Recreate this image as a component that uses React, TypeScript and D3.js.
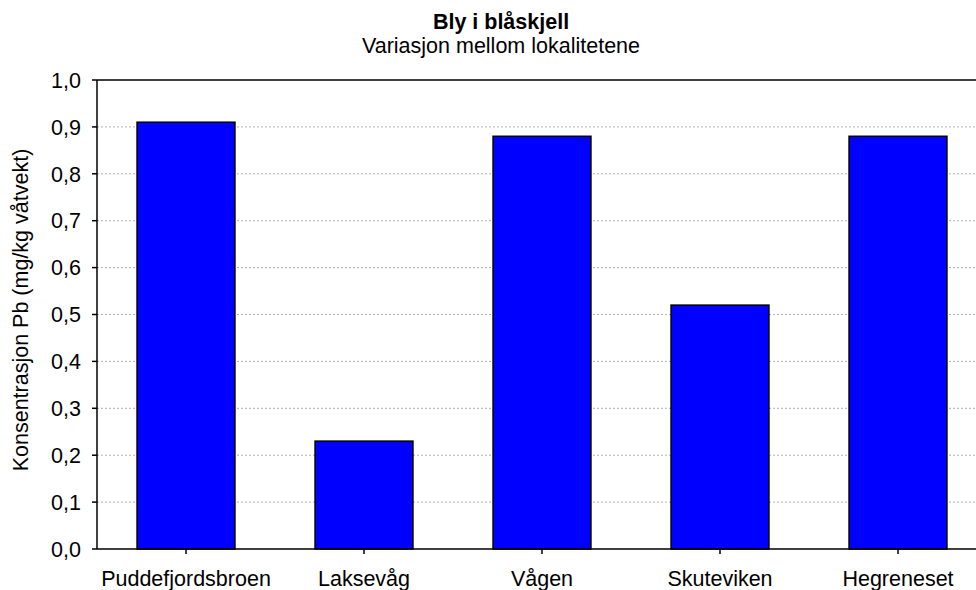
import React from "react";
import * as d3 from "d3";

const categories = ["Puddefjordsbroen", "Laksevåg", "Vågen", "Skuteviken", "Hegreneset"];
const values = [0.91, 0.23, 0.88, 0.52, 0.88];
const yTicks = [0, 0.1, 0.2, 0.3, 0.4, 0.5, 0.6, 0.7, 0.8, 0.9, 1.0];

const W = 976, H = 590;
const left = 97, top = 80, bottom = 549, right = 987;

export default function App() {
  const x = d3.scaleBand<string>().domain(categories).range([left, right]).paddingInner(0.45).paddingOuter(0.225);
  const y = d3.scaleLinear().domain([0, 1]).range([bottom, top]);
  const fmt = (v: number) => v.toFixed(1).replace(".", ",");
  const font = "'Liberation Sans', Arial, sans-serif";
  const fs = 21.5;
  return (
    <svg width={W} height={H} style={{ position: "absolute", left: 0, top: 0, background: "#fff" }} fontFamily={font}>
      <text x={501} y={29} textAnchor="middle" fontSize={fs} fontWeight="bold">Bly i blåskjell</text>
      <text x={501} y={53} textAnchor="middle" fontSize={fs}>Variasjon mellom lokalitetene</text>
      {yTicks.slice(1, -1).map((t) => (
        <line key={t} x1={left} x2={W} y1={y(t)} y2={y(t)} stroke="#b0b0b0" strokeWidth={1} strokeDasharray="2,2" />
      ))}
      {categories.map((c, i) => (
        <rect key={c} x={x(c)!} y={y(values[i])} width={x.bandwidth()} height={bottom - y(values[i])} fill="#0000ff" stroke="#000" strokeWidth={1.5} />
      ))}
      <line x1={left} x2={W} y1={top} y2={top} stroke="#000" strokeWidth={1.5} />
      <line x1={left} x2={W} y1={bottom} y2={bottom} stroke="#000" strokeWidth={1.5} />
      <line x1={left} x2={left} y1={top} y2={bottom} stroke="#000" strokeWidth={1.5} />
      {yTicks.map((t) => (
        <g key={t}>
          <line x1={left - 5} x2={left} y1={y(t)} y2={y(t)} stroke="#000" strokeWidth={1.5} />
          <text x={81} y={y(t) + 7.7} textAnchor="end" fontSize={fs}>{fmt(t)}</text>
        </g>
      ))}
      {categories.map((c) => {
        const cx = x(c)! + x.bandwidth() / 2;
        return (
          <g key={c}>
            <line x1={cx} x2={cx} y1={bottom} y2={bottom + 5} stroke="#000" strokeWidth={1.5} />
            <text x={cx} y={586} textAnchor="middle" fontSize={fs}>{c}</text>
          </g>
        );
      })}
      <text transform={`translate(28, 310) rotate(-90)`} textAnchor="middle" fontSize={fs}>Konsentrasjon Pb (mg/kg våtvekt)</text>
    </svg>
  );
}
